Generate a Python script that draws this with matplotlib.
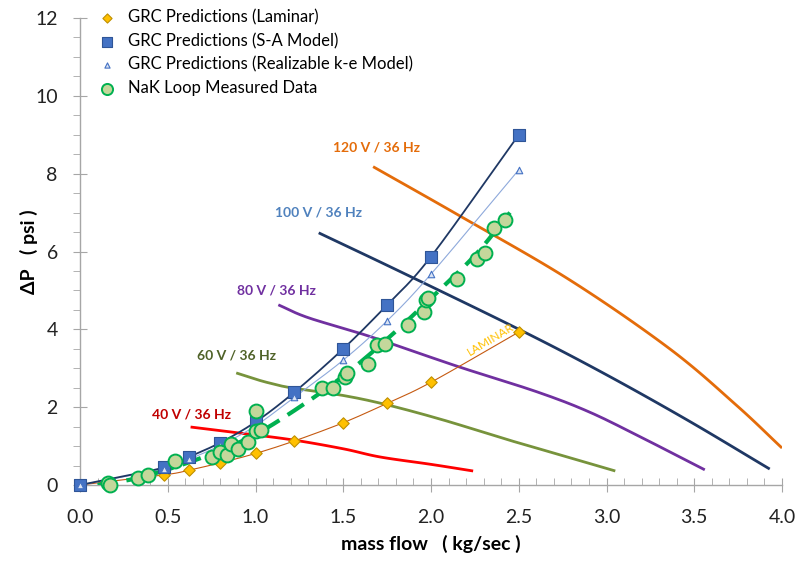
import numpy as np
import matplotlib
matplotlib.use("Agg")
import matplotlib.pyplot as plt
from matplotlib.ticker import MultipleLocator, FormatStrFormatter

plt.rcParams['font.family'] = ['Lato', 'DejaVu Sans']
plt.rcParams['lines.scale_dashes'] = False

# ---- data ----
flow_grc = [0.0, 0.48, 0.62, 0.80, 1.00, 1.22, 1.50, 1.75, 2.00, 2.50]
dp_laminar = [0.0, 0.26, 0.38, 0.57, 0.81, 1.13, 1.60, 2.10, 2.64, 3.93]
dp_sa = [0.0, 0.45, 0.72, 1.09, 1.62, 2.38, 3.50, 4.63, 5.87, 9.00]
dp_ke = [0.0, 0.42, 0.66, 1.02, 1.52, 2.25, 3.21, 4.22, 5.42, 8.10]

flow_meas = [0.16, 0.17, 0.33, 0.39, 0.54, 0.75, 0.80, 0.84, 0.86, 0.90, 0.96,
             1.00, 1.03, 1.00, 1.38, 1.44, 1.51, 1.52, 1.64, 1.69, 1.74, 1.87,
             1.96, 1.97, 1.98, 2.15, 2.26, 2.31, 2.36, 2.42]
dp_meas = [0.05, 0.01, 0.18, 0.25, 0.62, 0.72, 0.85, 0.78, 1.05, 0.93, 1.10,
           1.40, 1.42, 1.90, 2.50, 2.50, 2.77, 2.88, 3.10, 3.60, 3.62, 4.10,
           4.45, 4.75, 4.80, 5.30, 5.80, 5.95, 6.60, 6.80]

fit_flow = [0.10, 0.30, 0.50, 0.75, 1.00, 1.25, 1.50, 1.75, 2.00, 2.25, 2.45]
fit_dp = [0.00, 0.15, 0.40, 0.80, 1.30, 2.00, 2.80, 3.75, 4.80, 5.90, 7.00]

pump_labels = ["40 V / 36 Hz", "60 V / 36 Hz", "80 V / 36 Hz", "100 V / 36 Hz", "120 V / 36 Hz"]
pump_flow = [
    [0.63, 0.90, 1.21, 1.50, 1.71, 2.00, 2.24],
    [0.89, 1.00, 1.08, 1.20, 1.50, 1.75, 2.07, 2.41, 2.70, 3.05],
    [1.13, 1.30, 1.65, 2.15, 2.60, 2.90, 3.20, 3.56],
    [1.36, 1.84, 2.51, 2.98, 3.46, 3.93],
    [1.67, 2.17, 2.79, 3.36, 3.74, 4.00],
]
pump_dp = [
    [1.49, 1.34, 1.16, 0.93, 0.72, 0.53, 0.36],
    [2.88, 2.72, 2.62, 2.50, 2.30, 2.06, 1.67, 1.20, 0.82, 0.36],
    [4.63, 4.30, 3.82, 3.05, 2.40, 1.88, 1.22, 0.39],
    [6.48, 5.45, 3.98, 2.88, 1.67, 0.41],
    [8.18, 6.90, 5.27, 3.50, 2.05, 0.95],
]
pump_colors = ["#FF0000", "#77933C", "#7030A0", "#1F3864", "#E46C0A"]
label_colors = ["#C00000", "#4F6228", "#7030A0", "#4F81BD", "#E46C0A"]
label_pos = [(0.41, 1.80), (0.665, 3.34), (0.895, 5.01), (1.11, 6.99), (1.44, 8.66)]


def smooth(x, y, n=20):
    """Catmull-Rom rendering of a polyline through the given points."""
    x = np.asarray(x, float); y = np.asarray(y, float)
    if len(x) < 3:
        return x, y
    P = np.column_stack([x, y])
    P = np.vstack([2 * P[0] - P[1], P, 2 * P[-1] - P[-2]])
    out = []
    t = np.linspace(0, 1, n, endpoint=False)[:, None]
    for i in range(1, len(P) - 2):
        p0, p1, p2, p3 = P[i - 1], P[i], P[i + 1], P[i + 2]
        seg = 0.5 * ((2 * p1) + (-p0 + p2) * t + (2 * p0 - 5 * p1 + 4 * p2 - p3) * t ** 2
                     + (-p0 + 3 * p1 - 3 * p2 + p3) * t ** 3)
        out.append(seg)
    out.append(P[-2][None, :])
    out = np.vstack(out)
    return out[:, 0], out[:, 1]


fig = plt.figure(figsize=(8.01, 5.65), dpi=100)
ax = fig.add_axes([0.0999, 0.1416, 0.8764, 0.8265])

# pump curves
for fx, fy, c in zip(pump_flow, pump_dp, pump_colors):
    sx, sy = smooth(fx, fy)
    ax.plot(sx, sy, color=c, lw=2.0, zorder=2, solid_capstyle='butt', solid_joinstyle='round')
for lab, (lx, ly), c in zip(pump_labels, label_pos, label_colors):
    ax.text(lx, ly, lab, color=c, fontsize=10, fontweight='bold', va='center', ha='left')

# GRC prediction lines
sx, sy = smooth(flow_grc, dp_laminar)
ax.plot(sx, sy, color="#C55A11", lw=0.8, zorder=3)
sx, sy = smooth(flow_grc, dp_ke)
ax.plot(sx, sy, color="#8EA9DB", lw=0.8, zorder=3)
sx, sy = smooth(flow_grc, dp_sa)
ax.plot(sx, sy, color="#1F3864", lw=1.3, zorder=3)

# measured data fit (dashed)
sx, sy = smooth(fit_flow, fit_dp)
ax.plot(sx, sy, color="#00B050", lw=3.0, dashes=(14, 7), zorder=4)

ax.scatter(flow_grc, dp_laminar, marker='D', s=34, facecolor="#FFC000",
           edgecolor="#BF9000", linewidth=0.8, zorder=5, label="GRC Predictions (Laminar)")
ax.scatter(flow_grc, dp_sa, marker='s', s=78, facecolor="#4472C4",
           edgecolor="#2F5597", linewidth=0.8, zorder=5, label="GRC Predictions (S-A Model)")
ax.scatter(flow_grc, dp_ke, marker='^', s=22, facecolor="#DAE3F3",
           edgecolor="#4472C4", linewidth=0.8, zorder=6, label="GRC Predictions (Realizable k-e Model)")
ax.scatter(flow_meas, dp_meas, marker='o', s=100, facecolor="#C4D79B",
           edgecolor="#00B050", linewidth=1.4, zorder=7, label="NaK Loop Measured Data")

ax.text(2.34, 3.74, "LAMINAR", color="#FFC000", fontsize=8.5, rotation=31,
        ha='center', va='center', zorder=6)

ax.set_xlim(0, 4.0)
ax.set_ylim(0, 12)
ax.xaxis.set_major_locator(MultipleLocator(0.5))
ax.xaxis.set_minor_locator(MultipleLocator(0.1))
ax.yaxis.set_major_locator(MultipleLocator(2))
ax.yaxis.set_minor_locator(MultipleLocator(0.5))
ax.xaxis.set_major_formatter(FormatStrFormatter('%.1f'))

for s in ['top', 'right']:
    ax.spines[s].set_visible(False)
for s in ['left', 'bottom']:
    ax.spines[s].set_color('#A6A6A6')
    ax.spines[s].set_linewidth(1.0)

ax.tick_params(axis='x', which='major', direction='inout', length=10, color='#A6A6A6',
               labelsize=14, pad=12, labelcolor='#222222')
ax.tick_params(axis='x', which='minor', direction='in', length=5, color='#A6A6A6')
ax.tick_params(axis='y', which='major', direction='inout', length=10, color='#A6A6A6',
               labelsize=14, pad=11, labelcolor='#222222')
ax.tick_params(axis='y', which='minor', direction='out', length=5, color='#A6A6A6')

ax.set_xlabel("mass flow   ( kg/sec )", fontsize=14, fontweight='bold', labelpad=7)
ax.set_ylabel("ΔP   ( psi )", fontsize=14, fontweight='bold', labelpad=-2)

ax.legend(loc='upper left', bbox_to_anchor=(0.0, 1.04), frameon=False, fontsize=12,
          handletextpad=0.3, labelspacing=0.45, borderaxespad=0.2, scatterpoints=1,
          markerscale=0.8)

for c in ax.collections:
    c.set_clip_on(False)

fig.savefig("out.png", dpi=100)
